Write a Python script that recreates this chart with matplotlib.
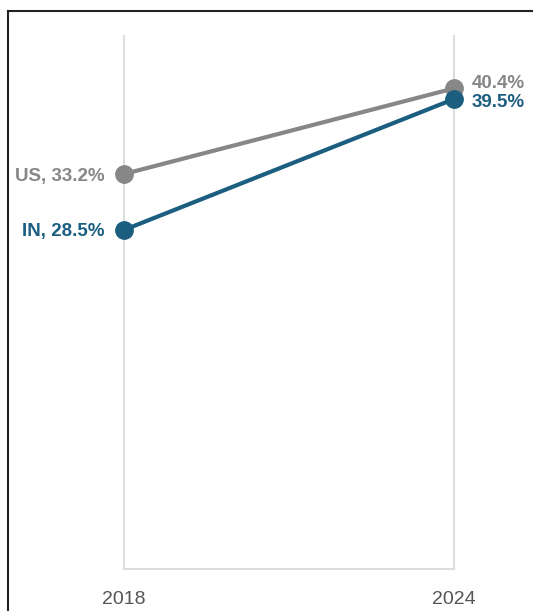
import matplotlib.pyplot as plt
from matplotlib.lines import Line2D

# data
years = [2018, 2024]
us_share = [33.2, 40.4]
in_share = [28.5, 39.5]

GRAY = '#878787'
BLUE = '#1b5e80'
GRID = '#dddddd'

plt.rcParams['font.family'] = ['Liberation Sans', 'DejaVu Sans']

fig = plt.figure(figsize=(5.33, 6.11), dpi=100)
ax = fig.add_axes([124 / 533, 1 - 569 / 611, 330 / 533, 533 / 611])

ax.plot(years, us_share, color=GRAY, lw=3, marker='o', ms=12.5, clip_on=False, zorder=3)
ax.plot(years, in_share, color=BLUE, lw=3, marker='o', ms=12.5, clip_on=False, zorder=4)

# labels at the ends
lab = dict(textcoords='offset pixels', va='center', fontsize=13.5, fontweight='bold')
ax.annotate(f'US, {us_share[0]}%', (years[0], us_share[0]), xytext=(-19, -2),
            ha='right', color=GRAY, **lab)
ax.annotate(f'IN, {in_share[0]}%', (years[0], in_share[0]), xytext=(-19, -2),
            ha='right', color=BLUE, **lab)
ax.annotate(f'{us_share[1]}%', (years[1], us_share[1]), xytext=(18, 5),
            ha='left', color=GRAY, **lab)
ax.annotate(f'{in_share[1]}%', (years[1], in_share[1]), xytext=(18, -3),
            ha='left', color=BLUE, **lab)

ax.set_xlim(years[0], years[1])
ax.set_ylim(0, 44.8)
ax.set_xticks(years)
ax.set_xticklabels([str(y) for y in years])
ax.set_yticks([])
ax.tick_params(axis='x', length=0, pad=16, labelsize=14, labelcolor='#555555')

for side in ['left', 'right', 'bottom']:
    ax.spines[side].set_color(GRID)
    ax.spines[side].set_linewidth(1.5)
ax.spines['top'].set_visible(False)

# frame lines on the left and top of the figure
fig.add_artist(Line2D([8 / 533, 8 / 533], [0, 1 - 11 / 611], color='#222222', lw=1.5))
fig.add_artist(Line2D([8 / 533, 1], [1 - 11 / 611, 1 - 11 / 611], color='#222222', lw=1.5))

fig.savefig('out.png', dpi=100)
